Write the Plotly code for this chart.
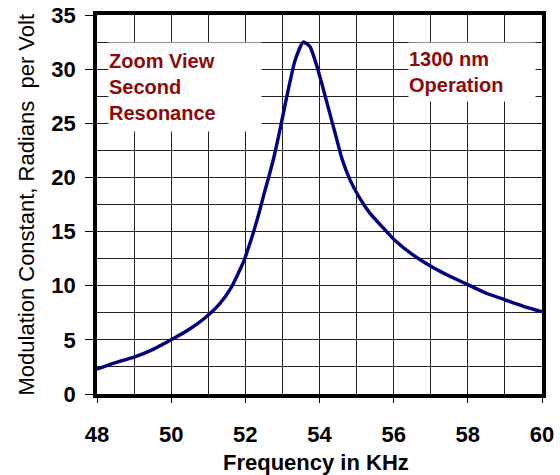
import plotly.graph_objects as go

freq_khz = [48.0, 48.5, 49.0, 49.5, 50.0, 50.5, 50.9, 51.3, 51.63, 51.95,
            52.17, 52.31, 52.4, 52.49, 52.62, 52.78, 52.94, 53.12, 53.34, 53.56,
            53.74, 53.9, 54.06, 54.24, 54.42, 54.6, 54.82, 55.1, 55.36, 55.7,
            56.0, 56.5, 57.0, 57.5, 58.0, 58.5, 59.0, 59.5, 60.0]
mod_const = [2.3, 2.9, 3.4, 4.1, 5.0, 6.0, 7.0, 8.3, 9.9, 12.2,
             14.4, 16.0, 17.1, 18.3, 19.9, 22.0, 24.5, 27.5, 30.8, 32.5,
             32.1, 30.6, 28.7, 26.4, 24.1, 21.8, 19.8, 18.0, 16.7, 15.4,
             14.3, 12.9, 11.8, 10.9, 10.1, 9.3, 8.7, 8.1, 7.6]

x_ticks = [48, 50, 52, 54, 56, 58, 60]
y_ticks = [0, 5, 10, 15, 20, 25, 30, 35]

FONT = "Arial, Liberation Sans, sans-serif"
TXT = "#8E0A0A"

fig = go.Figure()
fig.add_trace(go.Scatter(x=freq_khz, y=mod_const, mode="lines",
                         line=dict(color="#000080", width=3.4, shape="spline", smoothing=0.5),
                         showlegend=False, hoverinfo="skip"))

axis_common = dict(showline=True, linecolor="black", linewidth=3.5, mirror=True,
                   ticks="outside", tickcolor="black", tickwidth=1, automargin=False,
                   showgrid=True, gridcolor="#222222", gridwidth=1, zeroline=False,
                   ticklabeloverflow="allow",
                   tickfont=dict(family=FONT, size=22, color="black", weight="bold"))

fig.update_layout(
    width=560, height=475,
    margin=dict(l=97, r=18, t=15, b=81),
    paper_bgcolor="white", plot_bgcolor="white",
    xaxis=dict(range=[48, 60], tickvals=x_ticks, ticklen=5, ticklabelstandoff=13,
               minor=dict(dtick=1, showgrid=True, gridcolor="#222222", gridwidth=1, ticks=""),
               **axis_common),
    yaxis=dict(range=[0, 35], tickvals=y_ticks, ticklen=8, ticklabelstandoff=5,
               minor=dict(dtick=2.5, showgrid=True, gridcolor="#222222", gridwidth=1, ticks=""),
               **axis_common),
)

# axis titles placed as text
fig.add_annotation(xref="paper", yref="paper", x=(316 - 97) / 445, y=(394 - 462) / 379,
                   xanchor="center", yanchor="middle", showarrow=False,
                   text="Frequency in KHz",
                   font=dict(family=FONT, size=22, color="black", weight="bold"))
fig.add_annotation(xref="paper", yref="paper", x=(26 - 97) / 445, y=0.5,
                   xanchor="center", yanchor="middle", showarrow=False, textangle=-90,
                   text="Modulation Constant, Radians  per Volt",
                   font=dict(family=FONT, size=22, color="black"))

fig.add_annotation(xref="paper", yref="paper", x=(108 - 97) / 445, y=(394 - 42) / 379,
                   xanchor="left", yanchor="top", width=152, height=88, align="left",
                   text="Zoom View<br>Second<br>Resonance", showarrow=False,
                   bgcolor="white", borderpad=0,
                   font=dict(family=FONT, size=20, color=TXT, weight="bold"))
fig.add_annotation(xref="paper", yref="paper", x=(408 - 97) / 445, y=(394 - 42) / 379,
                   xanchor="left", yanchor="top", width=126, height=58, align="left",
                   text="1300 nm<br>Operation", showarrow=False,
                   bgcolor="white", borderpad=0,
                   font=dict(family=FONT, size=20, color=TXT, weight="bold"))

# remove the page's default 8px body margin so the figure sits at the window corner
fig.write_html("out.html", config={"displayModeBar": False},
               post_script="document.body.style.margin='0';")
